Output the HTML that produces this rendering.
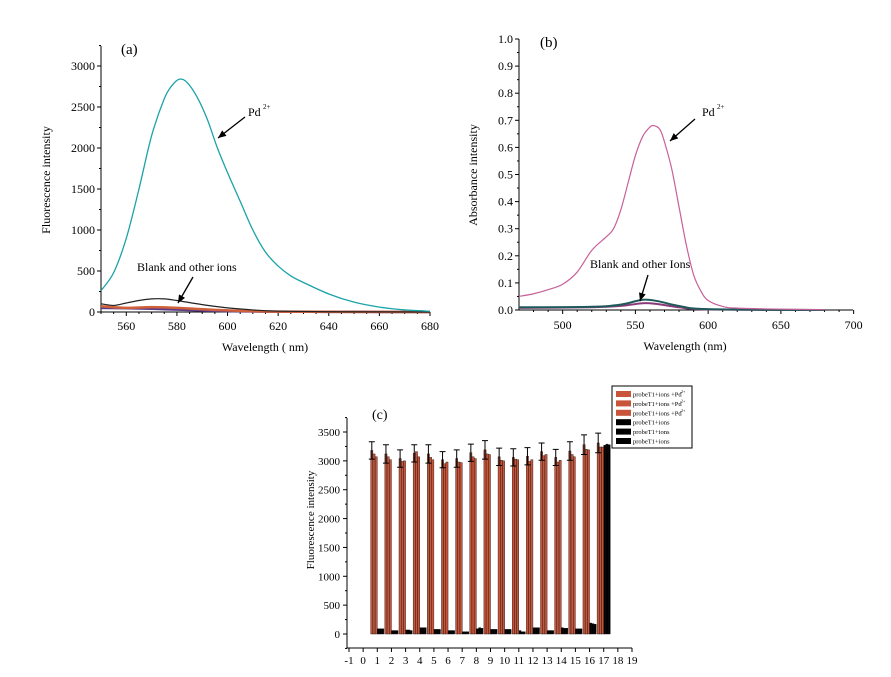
<!DOCTYPE html>
<html><head><meta charset="utf-8"><style>
body{margin:0;background:#fff}
svg{display:block;font-family:"Liberation Serif",serif}
</style></head><body>
<svg id="s" width="891" height="677" viewBox="0 0 891 677"></svg>
<script>
// Panel (a) data
const aPdX=[550,555,560,565,570,575,578,581,584,588,592,596,600,605,610,615,620,625,630,640,650,660,670,680];
const aPdY=[260,480,900,1500,2150,2600,2760,2840,2800,2620,2350,2000,1700,1350,1000,730,560,440,360,220,120,60,25,10];
const aBlankX=[550,555,560,565,570,575,580,590,600,610,620,640,680];
const aBlankY=[100,80,110,140,160,160,140,90,50,25,10,3,0];
const aOrangeX=[550,560,570,580,600,620,680];
const aOrangeY=[70,50,60,50,20,5,0];
const aPurpleX=[550,570,600,640,680];
const aPurpleY=[50,40,10,2,0];
const aXTicks=[560,580,600,620,640,660,680];
const aYTicks=[0,500,1000,1500,2000,2500,3000];
// Panel (b) data
const bPdX=[470,480,490,500,510,520,530,535,540,545,550,555,560,563,567,570,575,580,585,590,595,600,610,620,650,680];
const bPdY=[0.05,0.06,0.075,0.095,0.14,0.22,0.27,0.30,0.37,0.47,0.57,0.64,0.675,0.68,0.665,0.62,0.52,0.38,0.24,0.13,0.07,0.035,0.013,0.007,0.003,0.001];
const bOtherX=[470,520,540,555,565,580,600,680];
const bOtherY=[0.01,0.012,0.02,0.038,0.033,0.015,0.003,0];
const bOther2Y=[0.008,0.01,0.015,0.025,0.022,0.01,0.002,0];
const bXTicks=[500,550,600,650,700];
const bYTicks=[0,0.1,0.2,0.3,0.4,0.5,0.6,0.7,0.8,0.9,1.0];
// Panel (c) data
const cGroups=[1,2,3,4,5,6,7,8,9,10,11,12,13,14,15,16,17];
const cRed1=[3180,3120,3040,3130,3120,3020,3040,3140,3190,3070,3060,3080,3160,3060,3170,3280,3310];
const cRed2=[3120,3070,2990,3160,3060,2950,2980,3070,3120,3010,3030,2990,3090,2980,3110,3200,3240];
const cRed3=[3070,3020,3000,3070,3020,2980,2970,3040,3110,3000,3020,3020,3110,3010,3070,3190,3240];
const cBlk1=[90,60,70,110,80,60,40,90,80,80,60,110,60,110,90,190,3270];
const cBlk2=[90,60,70,110,80,60,40,110,80,80,40,110,60,100,90,180,3290];
const cBlk3=[90,60,60,110,80,60,40,100,80,80,40,110,60,100,90,170,3280];
const cErr=[150,160,150,150,160,140,150,150,160,150,150,150,150,140,160,170,170];
const cXTicks=[-1,0,1,2,3,4,5,6,7,8,9,10,11,12,13,14,15,16,17,18,19];
const cYTicks=[0,500,1000,1500,2000,2500,3000,3500];

const S=document.getElementById('s');const NS='http://www.w3.org/2000/svg';
function el(t,a,txt){const e=document.createElementNS(NS,t);for(const k in a)e.setAttribute(k,a[k]);if(txt!=null)e.textContent=txt;S.appendChild(e);return e;}
function smooth(pts){let d='M'+pts[0][0]+','+pts[0][1];for(let i=0;i<pts.length-1;i++){const p0=pts[i-1]||pts[i],p1=pts[i],p2=pts[i+1],p3=pts[i+2]||p2;d+=' C'+(p1[0]+(p2[0]-p0[0])/6)+','+(p1[1]+(p2[1]-p0[1])/6)+' '+(p2[0]-(p3[0]-p1[0])/6)+','+(p2[1]-(p3[1]-p1[1])/6)+' '+p2[0]+','+p2[1];}return d;}
function curve(xs,ys,fx,fy,col,name,w){const p=el('path',{d:smooth(xs.map((x,i)=>[fx(x),fy(ys[i])])),fill:'none',stroke:col,'stroke-width':w||1.2});}
function line(x1,y1,x2,y2,w){const l=el('line',{x1,y1,x2,y2,stroke:'#000','stroke-width':w||1});return l;}
function text(x,y,t,o){const e=el('text',Object.assign({x,y,'font-size':12,fill:'#000'},o||{}),t);return e;}
function arrow(x1,y1,x2,y2,name){const l=el('line',{x1,y1,x2,y2,stroke:'#000','stroke-width':1.3});const a=Math.atan2(y2-y1,x2-x1),L=8,W=3.5;const px=x2-L*Math.cos(a),py=y2-L*Math.sin(a);el('polygon',{points:`${x2},${y2} ${px-W*Math.sin(a)},${py+W*Math.cos(a)} ${px+W*Math.sin(a)},${py-W*Math.cos(a)}`,fill:'#000'});}

// ---- Panel A
{const x0=101,y0=312,fx=v=>x0+(v-550)*329/130,fy=v=>y0-v*0.082;
line(x0,46,x0,y0);line(x0,y0,430,y0);
for(let v=550;v<=680;v+=5){line(fx(v),y0,fx(v),y0+(v%20==0?4:2));}
for(let v=0;v<=3250;v+=250){line(x0-(v%500==0?4:2),fy(v),x0,fy(v));}
aXTicks.forEach(v=>{const t=text(fx(v),y0+18,v,{'text-anchor':'middle'});});
aYTicks.forEach(v=>{const t=text(x0-6,fy(v)+4,v,{'text-anchor':'end'});});
curve(aPurpleX,aPurpleY,fx,fy,'#5a3a8a','series-other-purple',2.5);
curve(aOrangeX,aOrangeY,fx,fy,'#d0603a','series-other-orange',2.5);
curve(aBlankX,aBlankY,fx,fy,'#222','series-blank',1.2);
curve(aPdX,aPdY,fx,fy,'#1aa3a8','series-pd',1.3);
let t=text(121,54,'(a)',{'font-size':15});
t=text(248,116,'Pd',{'font-size':12});
text(263,109,'2+',{'font-size':7});
arrow(245,117,218,138,'pd-arrow-a');
t=text(137,271,'Blank and other ions');
arrow(193,277,178,303,'blank-arrow-a');
t=text(265,351,'Wavelength (  nm)',{'text-anchor':'middle'});
t=text(0,0,'Fluorescence intensity',{'text-anchor':'middle',transform:'translate(50,180) rotate(-90)'});}

// ---- Panel B
{const x0=519,y0=310,fx=v=>x0+(v-470)*1.455,fy=v=>y0-v*271;
line(x0,39,x0,y0);line(x0,y0,853,y0);
for(let v=470;v<=700;v+=10){if(v>470)line(fx(v),y0,fx(v),y0+(v%50==0?4:2));}
for(let i=0;i<=20;i++){const v=i*0.05;line(x0-(i%2==0?4:2),fy(v),x0,fy(v));}
bXTicks.forEach(v=>{const t=text(fx(v),y0+19,v,{'text-anchor':'middle'});});
bYTicks.forEach(v=>{const t=text(x0-6,fy(v)+4,v.toFixed(1),{'text-anchor':'end'});});
curve(bOtherX,bOther2Y,fx,fy,'#8a3a7a','series-other-purple',2);
curve(bOtherX,bOtherY,fx,fy,'#1f5a5a','series-other-green',2);
curve(bPdX,bPdY,fx,fy,'#c8609a','series-pd',1.2);
let t=text(540,47,'(b)',{'font-size':15});
t=text(702,116,'Pd',{'font-size':12});
text(717,109,'2+',{'font-size':7});
arrow(695,119,670,141,'pd-arrow-b');
t=text(590,268,'Blank and other Ions');
arrow(648,275,640,301,'blank-arrow-b');
t=text(685,350,'Wavelength (nm)',{'text-anchor':'middle'});
t=text(0,0,'Absorbance intensity',{'text-anchor':'middle',transform:'translate(477,175) rotate(-90)'});}

// ---- Panel C
{const x0=347,y0=648,fx=v=>349+(v+1)*14.15,fy=v=>634-v*202/3500;
line(x0,418,x0,y0);line(x0,y0,632,y0);
cXTicks.forEach(v=>{line(fx(v),y0,fx(v),y0+4);const t=text(fx(v),y0+16,v,{'text-anchor':'middle','font-size':11});});
for(let v=-250;v<=3750;v+=250){line(x0-(v%500==0?4:2),fy(v),x0,fy(v));}
cYTicks.forEach(v=>{const t=text(x0-7,fy(v)+4,v,{'text-anchor':'end','font-size':11});});
const bw=2.2;const series=[[cRed1,'#c8553a',-3],[cRed2,'#c8553a',-2],[cRed3,'#c8553a',-1],[cBlk1,'#000',0],[cBlk2,'#000',1],[cBlk3,'#000',2]];
cGroups.forEach((g,i)=>{series.forEach(([arr,col,k],j)=>{const x=fx(g)+k*bw,top=fy(arr[i]);const r=el('rect',{x,y:top,width:bw,height:fy(0)-top,fill:col,stroke:'#111','stroke-width':0.4});});
const ex=fx(g)-3*bw+bw/2,et=fy(cRed1[i]+cErr[i]),eb=fy(cRed1[i]-cErr[i]);const e=el('path',{d:`M${ex},${et}V${eb}M${ex-3},${et}H${ex+3}M${ex-3},${eb}H${ex+3}`,stroke:'#000','stroke-width':1,fill:'none'});});
let t=text(372,419,'(c)',{'font-size':14});
t=text(0,0,'Fluorescence intensity',{'text-anchor':'middle','font-size':11,transform:'translate(314,520) rotate(-90)'});
const lg=el('rect',{x:612,y:386,width:80,height:62,fill:'#fff',stroke:'#000','stroke-width':1});
const labs=['probeT1+ions +Pd','probeT1+ions +Pd','probeT1+ions +Pd','probeT1+ions','probeT1+ions','probeT1+ions'];
labs.forEach((l,i)=>{const y=394+i*9.4;const sw=el('rect',{x:616,y:y-3,width:15,height:6,fill:i<3?'#c8553a':'#000'});const tt=text(633,y+2.5,l,{'font-size':6.5});if(i<3)text(681,y-1,'2+',{'font-size':4});});}
</script>
</body></html>
